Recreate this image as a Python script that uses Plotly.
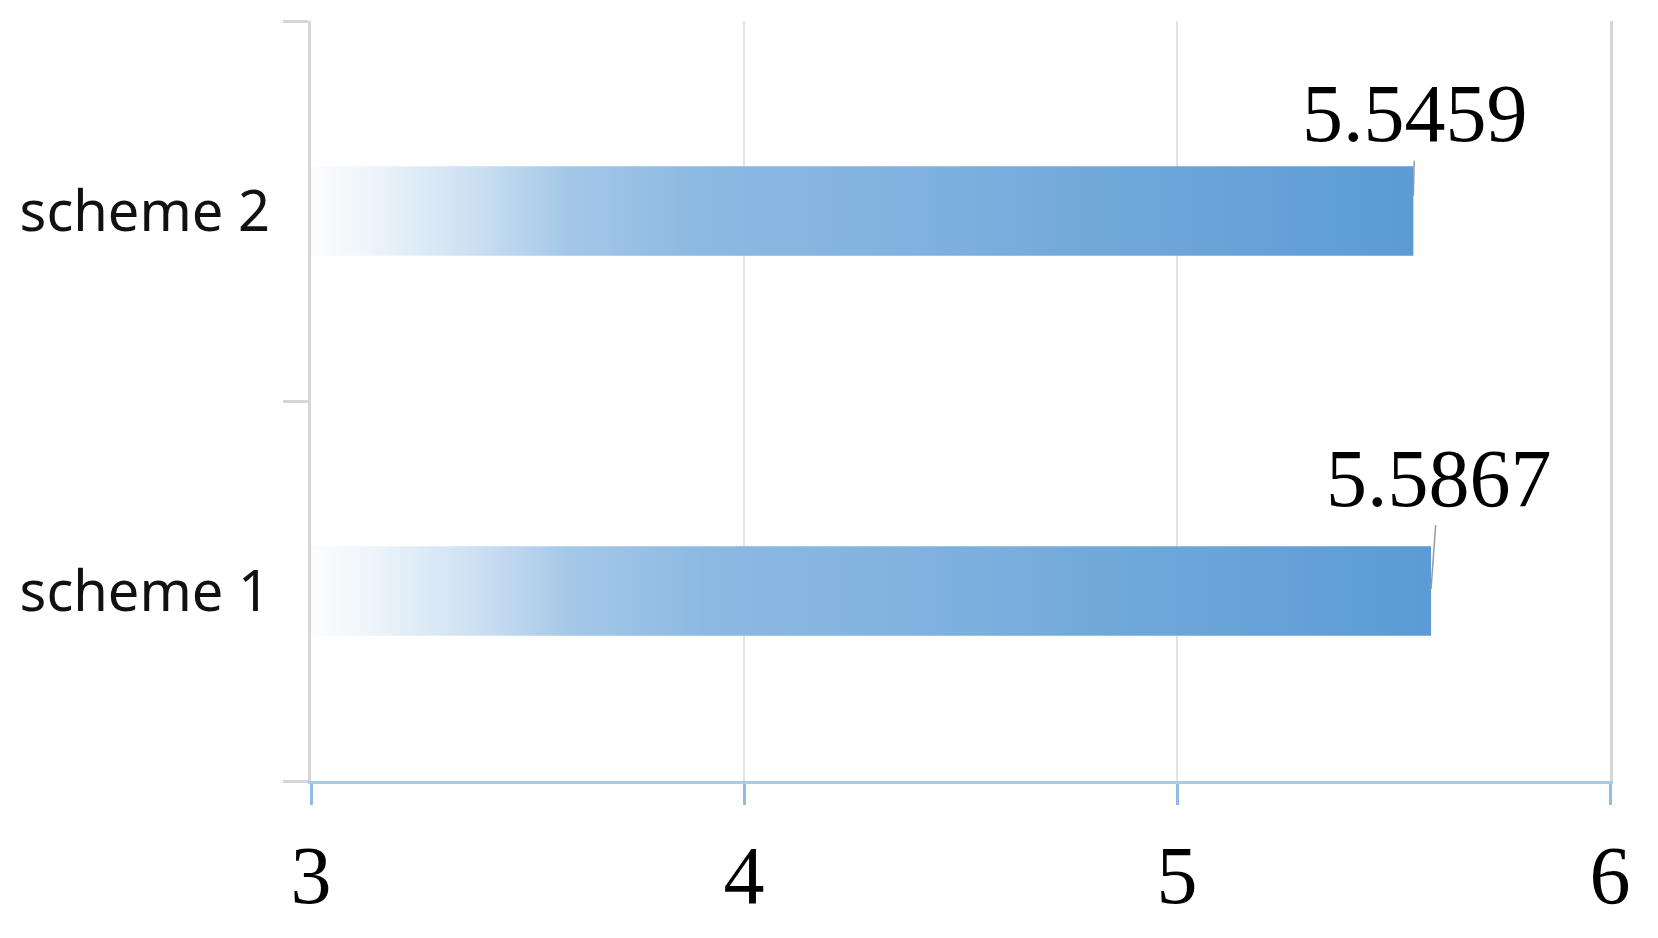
import plotly.graph_objects as go

categories = ['scheme 1', 'scheme 2']
values = [5.5867, 5.5459]
x_ticks = [3, 4, 5, 6]
value_labels = ['5.5867', '5.5459']

x_min, x_max = 3, 6
half_bar = 0.118   # half bar thickness in category units

# gradient along each bar (white -> #5b9bd5)
grad = [[0.0, '#fcfdfe'], [0.05, '#eff5fb'], [0.14, '#cfe2f3'], [0.23, '#a5c8e8'],
        [0.35, '#8cb9e2'], [0.54, '#81b2df'], [0.72, '#70a8da'], [0.85, '#67a2d8'],
        [1.0, '#5b9bd5']]

fig = go.Figure()

for i, (cat, v) in enumerate(zip(categories, values)):
    fig.add_trace(go.Scatter(
        x=[x_min, v, v, x_min, x_min],
        y=[i - half_bar, i - half_bar, i + half_bar, i + half_bar, i - half_bar],
        mode='lines', fill='toself', line=dict(width=0),
        fillgradient=dict(type='horizontal', colorscale=grad, start=x_min, stop=v),
        hoverinfo='skip', showlegend=False, name=cat,
    ))

# invisible trace so the label axis is drawn
fig.add_trace(go.Scatter(x=values, y=list(range(len(categories))), yaxis='y2',
                         mode='markers', marker=dict(opacity=0), showlegend=False,
                         hoverinfo='skip'))

# value labels with small leader lines
label_offsets = [(8, -111, 0.005), (2, -82, 0.04)]
for i, (v, txt) in enumerate(zip(values, value_labels)):
    ax, ay, dy = label_offsets[i]
    fig.add_annotation(x=v, y=i + dy, text=txt, showarrow=True, arrowhead=0,
                       arrowwidth=1.5, arrowcolor='#9a9a9a', ax=ax, ay=ay,
                       font=dict(family='Liberation Serif, Times New Roman, serif',
                                 size=82, color='#000'))

fig.update_layout(
    width=1658, height=938,
    margin=dict(l=300, r=56, t=13, b=165),
    plot_bgcolor='white', paper_bgcolor='white',
    xaxis=dict(range=[x_min, x_max], tickvals=x_ticks, showgrid=True,
               gridcolor='#e3e3e3', gridwidth=2, zeroline=False,
               showline=True, linecolor='#a9cbeb', linewidth=3,
               ticks='outside', ticklen=21, tickwidth=3, tickcolor='#8fbbe6',
               tickfont=dict(family='Liberation Serif, Times New Roman, serif',
                             size=82, color='#000')),
    yaxis=dict(range=[-0.5, 1.5], tickvals=[-0.5, 0.5, 1.5], showticklabels=False,
               showgrid=False, zeroline=False, showline=True, mirror=True,
               linecolor='#d6d6d6', linewidth=3,
               ticks='outside', ticklen=25, tickwidth=3, tickcolor='#d6d6d6'),
    yaxis2=dict(range=[-0.5, 1.5], overlaying='y', side='left', anchor='x',
                tickvals=list(range(len(categories))), ticktext=categories,
                showgrid=False, zeroline=False, showline=False, ticks='',
                ticklabelstandoff=40,
                tickfont=dict(family='Noto Sans, sans-serif', size=56, color='#111')),
)

fig.write_html("out.html")
